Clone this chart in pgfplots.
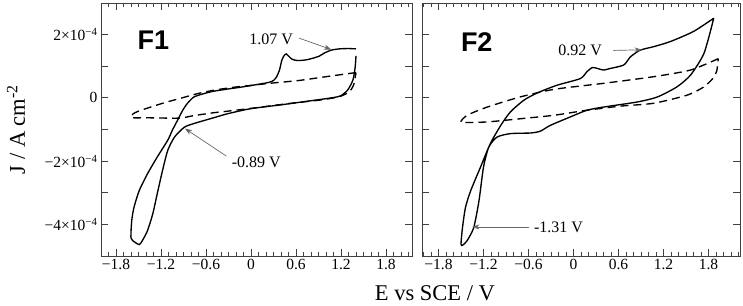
\documentclass[border=0pt]{standalone}
\usepackage{fontspec}
\setmainfont{Liberation Serif}
\newfontfamily\headfont{Liberation Sans}
\usepackage{pgfplots}
\pgfplotsset{compat=1.18}
\usetikzlibrary{arrows.meta}

\tikzset{
  ann/.style={font=\fontsize{16}{19}\selectfont},
  annarrow/.style={black!60, line width=0.7pt, -{Stealth[length=7pt,width=5pt,inset=2pt]}},
  solidcv/.style={black, line width=1.35pt, smooth, tension=0.4},
  dashcv/.style={black, line width=1.35pt, dash pattern=on 8pt off 5pt, smooth, tension=0.4},
}
\pgfplotsset{
  cvpanel/.style={
    scale only axis,
    height=253pt,
    ymin=-5, ymax=3,
    axis line style={black!75, line width=0.9pt},
    tick style={black!75, line width=0.8pt},
    tick align=inside,
    xtick pos=both, ytick pos=both,
    xtick={-1.8,-1.2,-0.6,0,0.6,1.2,1.8},
    xticklabels={−1.8,−1.2,−0.6,0,0.6,1.2,1.8},
    minor xtick={-2.0,-1.9,-1.7,-1.6,-1.5,-1.4,-1.3,-1.1,-1.0,-0.9,-0.8,-0.7,-0.5,-0.4,-0.3,-0.2,-0.1,0.1,0.2,0.3,0.4,0.5,0.7,0.8,0.9,1.0,1.1,1.3,1.4,1.5,1.6,1.7,1.9,2.0,2.1,2.2},
    ytick={-5,-4,-3,-2,-1,0,1,2,3},
    major tick length=7pt,
    minor tick length=4pt,
    tick label style={font=\fontsize{15.5}{18}\selectfont},
  }
}

\begin{document}
\begin{tikzpicture}
% ---------------- F1 ----------------
\begin{axis}[cvpanel, at={(0pt,0pt)}, anchor=south west,
  width=311pt, xmin=-2.0, xmax=2.147,
  yticklabels={,−4×10\textsuperscript{−4},,−2×10\textsuperscript{−4},,0,,2×10\textsuperscript{−4},},
  ylabel={J / A cm\textsuperscript{-2}},
  every axis y label/.style={at={(axis description cs:-0.273,0.5)},rotate=90,anchor=center,font=\fontsize{22.5}{26}\selectfont},
]
\addplot[solidcv] coordinates {
(1.40,1.55) (1.30,1.56) (1.18,1.55) (1.07,1.51) (0.98,1.42) (0.91,1.32)
(0.82,1.25) (0.73,1.20) (0.62,1.18) (0.55,1.22) (0.51,1.30) (0.47,1.39)
(0.44,1.33) (0.41,1.18) (0.38,0.88) (0.34,0.66) (0.30,0.55) (0.24,0.49)
(0.10,0.43) (0.00,0.39) (-0.16,0.33) (-0.31,0.28) (-0.50,0.21) (-0.62,0.14)
(-0.76,0.03) (-0.85,-0.18) (-0.91,-0.39) (-0.98,-0.71) (-1.05,-1.03)
(-1.11,-1.34) (-1.25,-1.87) (-1.38,-2.40) (-1.49,-2.93) (-1.56,-3.46)
(-1.59,-3.88) (-1.60,-4.43) (-1.55,-4.56) (-1.49,-4.64) (-1.45,-4.52)
(-1.38,-4.20) (-1.31,-3.67) (-1.25,-3.03) (-1.18,-2.30) (-1.11,-1.66)
(-1.02,-1.24) (-0.89,-0.93) (-0.76,-0.81) (-0.50,-0.63) (-0.31,-0.50)
(0.00,-0.34) (0.40,-0.22) (0.80,-0.09) (1.10,0.01) (1.20,0.07) (1.29,0.25)
(1.36,0.57) (1.39,0.99) (1.40,1.33)
};
\addplot[dashcv] coordinates {
(1.40,0.80) (1.00,0.67) (0.64,0.55) (0.29,0.47) (0.02,0.40) (-0.25,0.33)
(-0.50,0.24) (-0.72,0.13) (-0.95,-0.02) (-1.15,-0.15) (-1.35,-0.30)
(-1.50,-0.42) (-1.57,-0.50) (-1.60,-0.60) (-1.58,-0.63) (-1.36,-0.63)
(-0.96,-0.64) (-0.76,-0.56) (-0.50,-0.47) (-0.31,-0.42) (0.04,-0.32)
(0.50,-0.18) (0.95,-0.06) (1.18,0.04) (1.31,0.19) (1.37,0.42) (1.40,0.80)
};
\node[font=\headfont\bfseries\fontsize{27}{30}\selectfont] at (axis cs:-1.30,1.83) {F1};
\node[ann] at (axis cs:0.27,1.85) {1.07 V};
\draw[annarrow] (axis cs:0.64,1.89) -- (axis cs:1.07,1.53);
\node[ann] at (axis cs:0.07,-2.05) {-0.89 V};
\draw[annarrow] (axis cs:-0.33,-1.84) -- (axis cs:-0.88,-0.97);
\end{axis}

% ---------------- F2 ----------------
\begin{axis}[cvpanel, at={(321pt,0pt)}, anchor=south west,
  width=318pt, xmin=-2.02, xmax=2.22,
  yticklabels={},
]
\addplot[solidcv] coordinates {
(1.87,2.52) (1.60,2.10) (1.29,1.78) (1.07,1.62) (0.89,1.51) (0.76,1.30)
(0.67,1.04) (0.49,0.93) (0.40,0.88) (0.32,0.93) (0.25,0.96) (0.18,0.83)
(0.09,0.61) (-0.22,0.40) (-0.48,0.16) (-0.66,-0.07) (-0.84,-0.44)
(-0.97,-0.87) (-1.11,-1.45) (-1.24,-2.19) (-1.37,-2.93) (-1.44,-3.46)
(-1.48,-4.10) (-1.50,-4.62) (-1.48,-4.66) (-1.42,-4.52) (-1.33,-4.10)
(-1.26,-3.25) (-1.20,-2.19) (-1.13,-1.56) (-1.02,-1.24) (-0.84,-1.13)
(-0.57,-1.11) (-0.44,-1.05) (-0.31,-0.87) (-0.04,-0.60) (0.18,-0.39)
(0.40,-0.29) (0.85,-0.13) (1.12,0.03) (1.38,0.35) (1.56,0.72) (1.74,1.41)
(1.87,2.52)
};
\addplot[dashcv] coordinates {
(1.93,1.24) (1.56,0.88) (1.07,0.67) (0.40,0.46) (-0.26,0.27) (-0.71,0.03)
(-1.15,-0.29) (-1.42,-0.55) (-1.50,-0.74) (-1.47,-0.78) (-1.15,-0.76)
(-0.71,-0.66) (-0.26,-0.55) (0.18,-0.39) (0.63,-0.26) (1.07,-0.17)
(1.52,0.09) (1.74,0.35) (1.86,0.62) (1.91,0.85) (1.93,1.24)
};
\node[font=\headfont\bfseries\fontsize{27}{30}\selectfont] at (axis cs:-1.29,1.78) {F2};
\node[ann] at (axis cs:0.09,1.52) {0.92 V};
\draw[annarrow] (axis cs:0.53,1.50) -- (axis cs:0.91,1.52);
\node[ann] at (axis cs:-0.20,-4.10) {-1.31 V};
\draw[annarrow] (axis cs:-0.60,-4.08) -- (axis cs:-1.35,-4.08);
\end{axis}

\node[font=\fontsize{22.5}{26}\selectfont, anchor=base, inner sep=0pt] at (334pt,-44.5pt) {E vs SCE / V};

\pgfresetboundingbox
\path[use as bounding box] (-101pt,-49pt) rectangle (642pt,256pt);
\end{tikzpicture}
\end{document}
